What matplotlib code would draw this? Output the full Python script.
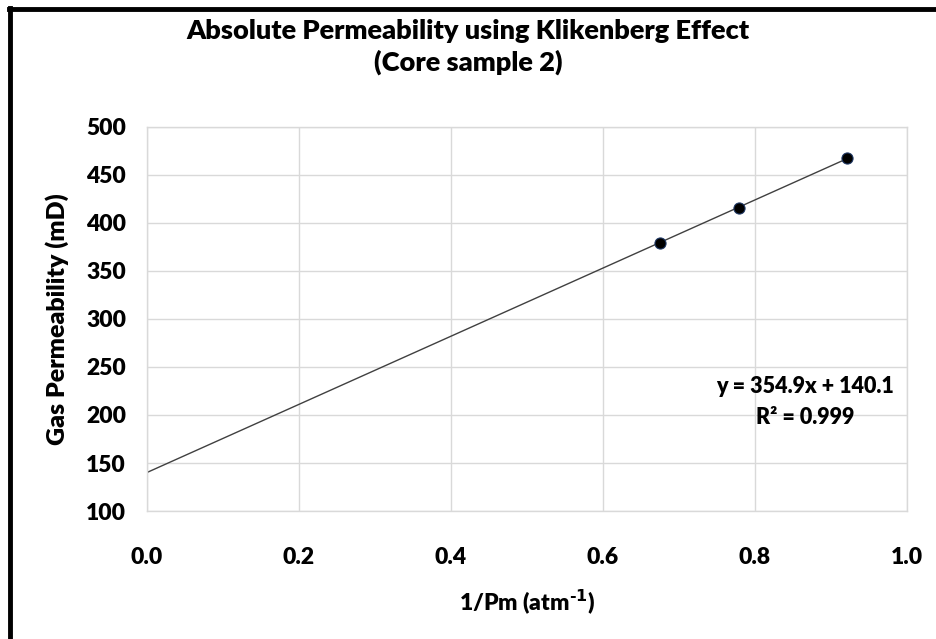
import numpy as np
import matplotlib
matplotlib.use("Agg")
import matplotlib.pyplot as plt
from matplotlib.lines import Line2D

plt.rcParams['font.family'] = ['Lato', 'DejaVu Sans']

# data
inv_pm = [0.675, 0.779, 0.921]        # 1/Pm (atm^-1)
k_gas = [379.5, 416.0, 467.5]         # gas permeability (mD)
slope = 354.9
intercept = 140.1
r2 = 0.999
x_ticks = [0.0, 0.2, 0.4, 0.6, 0.8, 1.0]
y_ticks = [100, 150, 200, 250, 300, 350, 400, 450, 500]

W = 'heavy'

fig = plt.figure(figsize=(9.36, 6.39), dpi=100)
ax = fig.add_axes([0.157, 0.2003, 0.812, 0.601])

# trendline from 0 to last point
xf = np.array([0.0, max(inv_pm)])
ax.plot(xf, slope * xf + intercept, color='#404040', lw=1.0, zorder=2)
ax.plot(inv_pm, k_gas, 'o', ms=8, mfc='black', mec='#1f3864', mew=0.8, zorder=3)

ax.set_xlim(0, 1.0)
ax.set_ylim(100, 500)
ax.set_xticks(x_ticks)
ax.set_yticks(y_ticks)
ax.set_xticklabels(['%.1f' % t for t in x_ticks], fontsize=16.5, fontweight=W)
ax.set_yticklabels([str(t) for t in y_ticks], fontsize=16.5, fontweight=W)
ax.tick_params(length=0, pad=15, axis='y')
ax.tick_params(length=0, pad=26, axis='x')
ax.grid(True, color='#d9d9d9', lw=1.0)
ax.set_axisbelow(True)
for s in ax.spines.values():
    s.set_color('#d9d9d9')
    s.set_linewidth(1.0)

ax.set_xlabel('1/Pm (atm$^{\\mathbf{\u2010}\\mathbf{1}}$)', fontsize=16.5, fontweight=W, labelpad=14)
ax.set_ylabel('Gas Permeability (mD)', fontsize=18, fontweight=W, labelpad=12)

fig.text(0.5, 0.952, 'Absolute Permeability using Klikenberg Effect', ha='center', va='center',
         fontsize=19.5, fontweight=W)
fig.text(0.5, 0.903, '(Core sample 2)', ha='center', va='center', fontsize=19.5, fontweight=W)

ax.text(0.866, 0.284, 'y = %.1fx + %.1f\nR² = %.3f' % (slope, intercept, r2), transform=ax.transAxes,
        ha='center', va='center', fontsize=15.5, fontweight=W, linespacing=1.55)

# border on top and left like the source image
fig.add_artist(Line2D([0.0095, 1.0], [0.986, 0.986], color='black', lw=3.5, transform=fig.transFigure))
fig.add_artist(Line2D([0.0105, 0.0105], [0.0, 0.988], color='black', lw=3.5, transform=fig.transFigure))

fig.savefig('out.png', dpi=100, facecolor='white')
